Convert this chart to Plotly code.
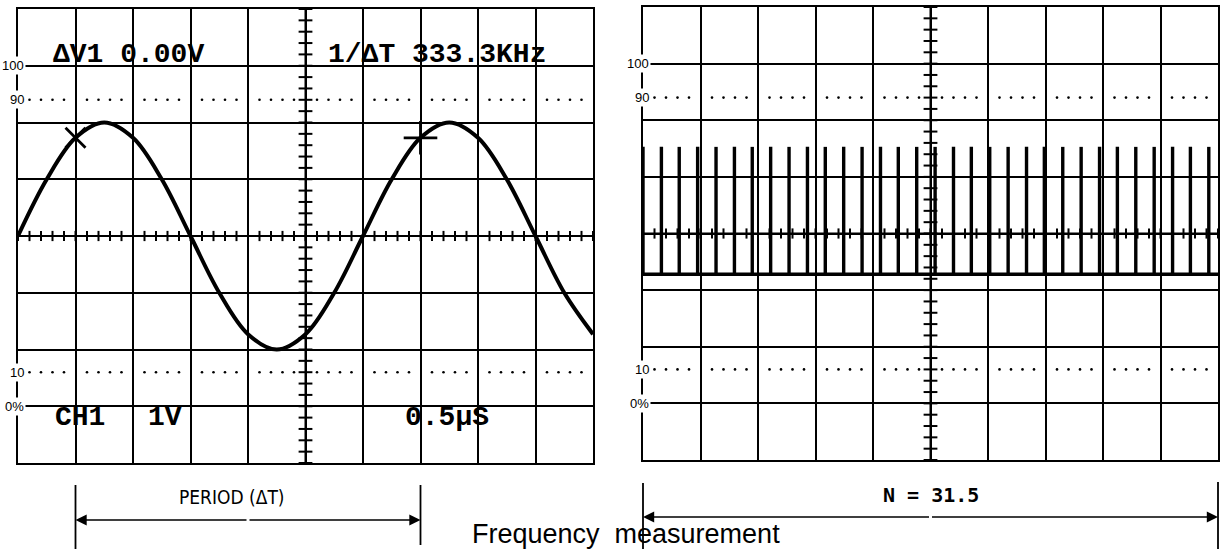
import plotly.graph_objects as go
import numpy as np

# ---------------- data (graticule divisions) ----------------
sine_x = [0, 0.5, 1, 1.5, 2, 2.5, 3, 3.5, 4, 4.5, 5, 5.5, 6, 6.5, 7, 7.5, 8, 8.5, 9, 9.5, 10]
sine_y = [0, 1.0, 1.73, 2.0, 1.73, 1.0, 0, -1.0, -1.73, -2.0, -1.73, -1.0, 0,
          1.0, 1.73, 2.0, 1.73, 1.0, 0, -1.0, -1.73]
cursor_x = [1, 7]
cursor_y = [1.73, 1.73]
cursor_symbols = ["x-thin", "cross-thin"]
cursor_sizes = [20, 24]

pulse_x = [0, 0.32, 0.63, 0.95, 1.27, 1.59, 1.90, 2.22, 2.54, 2.86, 3.17, 3.49, 3.81,
           4.13, 4.44, 4.76, 5.08, 5.40, 5.71, 6.03, 6.35, 6.67, 6.98, 7.30, 7.62,
           7.94, 8.25, 8.57, 8.89, 9.21, 9.52, 9.84, 10.12]
pulse_base = -0.72
pulse_top = 1.53

level_labels = ["100", "90", "10", "0%"]
level_pos = [3, 2.4, -2.4, -3]
dotted_levels = [2.4, -2.4]

left_texts = ["<b>ΔV1 0.00V</b>", "<b>1/ΔT 333.3KHz</b>", "<b>CH1</b>", "<b>1V</b>", "<b>0.5μS</b>"]
left_text_x = [0.58, 5.36, 0.6, 2.22, 6.7]
left_text_y = [3.2, 3.2, -3.2, -3.2, -3.2]

period_label = "PERIOD (ΔT)"
count_label = "<b>N = 31.5</b>"
caption = "Frequency\u00a0 measurement"

# ---------------- layout geometry (pixels) ----------------
W, H = 1225, 549
L_X = (18, 593); L_Y = (9, 463)
R_X = (643, 1218); R_Y = (7, 460)

def px_x(p): return p / W
def px_y(p): return 1 - p / H

fig = go.Figure()

def add_graticule(xa, ya):
    t = np.round(np.arange(0, 10.001, 0.2), 3)
    tx, ty = [], []
    for v in t:
        tx += [v, v, None]; ty += [-0.09, 0.09, None]
    tv = np.round(np.arange(-4, 4.001, 0.2), 3)
    for v in tv:
        tx += [4.88, 5.12, None]; ty += [v, v, None]
    tx += [5, 5, None, 0, 10]; ty += [-4, 4, None, 0, 0]
    fig.add_trace(go.Scatter(x=tx, y=ty, mode="lines", xaxis=xa, yaxis=ya,
                             line=dict(color="black", width=2), hoverinfo="skip",
                             showlegend=False))
    dx = [v for v in np.round(np.arange(0.2, 10, 0.2), 3) if abs(v - round(v)) > 1e-6]
    for lv in dotted_levels:
        fig.add_trace(go.Scatter(x=dx, y=[lv] * len(dx), mode="markers", xaxis=xa, yaxis=ya,
                                 marker=dict(color="black", size=2.6), hoverinfo="skip",
                                 showlegend=False))

add_graticule("x", "y")
add_graticule("x2", "y2")

# sine wave
fig.add_trace(go.Scatter(x=sine_x, y=sine_y, mode="lines",
                         line=dict(color="black", width=4, shape="spline"),
                         xaxis="x", yaxis="y", showlegend=False))
# cursors
for cx, cy, sym, sz in zip(cursor_x, cursor_y, cursor_symbols, cursor_sizes):
    fig.add_trace(go.Scatter(x=[cx], y=[cy], mode="markers", xaxis="x", yaxis="y",
                             marker=dict(symbol=sym, size=sz, line=dict(color="black", width=2.8)),
                             showlegend=False))

# pulse train
px_, py_ = [0, 10.2, None], [pulse_base, pulse_base, None]
for p in pulse_x:
    px_ += [p, p, None]; py_ += [pulse_base, pulse_top, None]
fig.add_trace(go.Scatter(x=px_, y=py_, mode="lines", xaxis="x2", yaxis="y2",
                         line=dict(color="black", width=3.4), showlegend=False))

ax_common = dict(range=[0, 10], dtick=1, tick0=0, showgrid=True, gridcolor="black", gridwidth=1.6,
                 showline=True, mirror=True, linecolor="black", linewidth=2,
                 showticklabels=False, ticks="", zeroline=False, fixedrange=True)
ay_common = dict(ax_common); ay_common["range"] = [-4, 4]

fig.update_layout(
    width=W, height=H, margin=dict(l=0, r=0, t=0, b=0),
    paper_bgcolor="white", plot_bgcolor="white", showlegend=False,
    xaxis=dict(ax_common, domain=[px_x(L_X[0]), px_x(L_X[1])], anchor="y"),
    yaxis=dict(ay_common, domain=[px_y(L_Y[1]), px_y(L_Y[0])], anchor="x"),
    xaxis2=dict(ax_common, domain=[px_x(R_X[0]), px_x(R_X[1])], anchor="y2"),
    yaxis2=dict(ay_common, domain=[px_y(R_Y[1]), px_y(R_Y[0])], anchor="x2"),
)

ann = []
for xr, yr in (("x", "y"), ("x2", "y2")):
    for lab, lv in zip(level_labels, level_pos):
        ann.append(dict(x=0, y=lv, xref=xr, yref=yr, text=lab, showarrow=False,
                        xanchor="right", yanchor="middle", xshift=8, bgcolor="white",
                        borderpad=1, font=dict(family="Liberation Sans", size=13, color="black")))
for t, x, y in zip(left_texts, left_text_x, left_text_y):
    ann.append(dict(x=x, y=y, xref="x", yref="y", text=t, showarrow=False, xanchor="left",
                    yanchor="middle", font=dict(family="Liberation Mono", size=28, color="black")))

def lx(d): return px_x(L_X[0] + d * (L_X[1] - L_X[0]) / 10)
def rx(d): return px_x(R_X[0] + d * (R_X[1] - R_X[0]) / 10)

shapes = []
for xx, top, bot in ((lx(cursor_x[0]), 485, 549), (lx(cursor_x[1]), 485, 545),
                     (rx(0), 483, 549), (rx(10), 482, 549)):
    shapes.append(dict(type="line", xref="paper", yref="paper", x0=xx, x1=xx,
                       y0=px_y(bot), y1=px_y(top), line=dict(color="black", width=1.8)))

def dbl_arrow(x0, x1, ypx):
    mid = (x0 + x1) / 2
    for xe in (x0, x1):
        ann.append(dict(x=xe, y=px_y(ypx), xref="paper", yref="paper", text="", showarrow=True,
                        ax=(mid - xe) * W, ay=0, arrowhead=2, arrowsize=1.4, arrowwidth=1.6,
                        arrowcolor="black", standoff=0))

dbl_arrow(lx(cursor_x[0]), lx(cursor_x[1]), 520)
dbl_arrow(rx(0), rx(10), 517)

ann.append(dict(x=px_x(232), y=px_y(497), xref="paper", yref="paper", text=period_label,
                showarrow=False, xanchor="center", yanchor="middle",
                font=dict(family="DejaVu Sans Condensed", size=19, color="black")))
ann.append(dict(x=rx(5), y=px_y(495), xref="paper", yref="paper", text=count_label,
                showarrow=False, xanchor="center", yanchor="middle",
                font=dict(family="DejaVu Sans Mono", size=20, color="black")))
ann.append(dict(x=px_x(470), y=px_y(517), xref="paper", yref="paper", text=caption,
                showarrow=False, xanchor="left", yanchor="top",
                font=dict(family="Liberation Sans", size=27, color="black")))

fig.update_layout(annotations=ann, shapes=shapes)
fig.write_html("out.html", config={"displayModeBar": False},
               post_script="document.body.style.margin='0px';")
